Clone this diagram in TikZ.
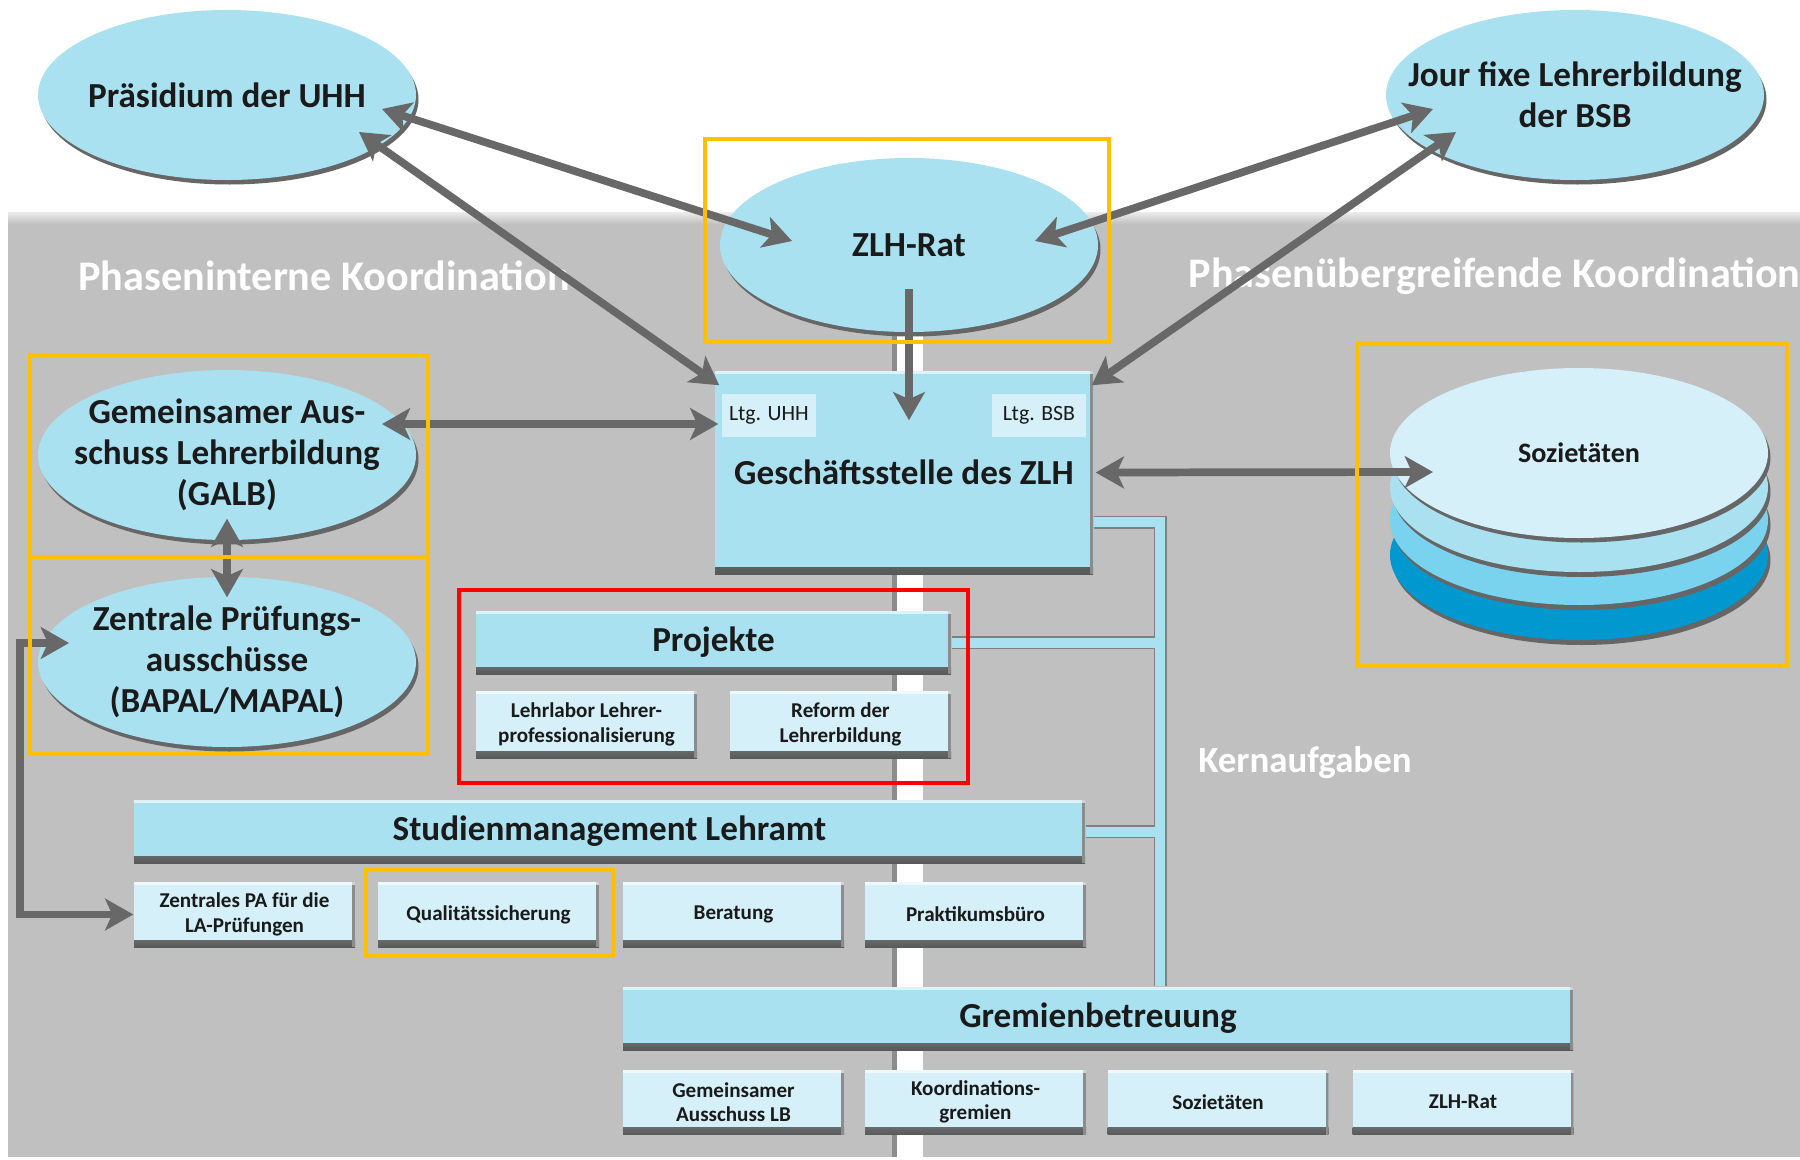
\documentclass[tikz,border=0pt]{standalone}
\usepackage{fontspec}
\setmainfont{Carlito}
\usetikzlibrary{shapes.geometric,arrows.meta,shadows}

\definecolor{zlhblau}{RGB}{169,225,241}
\definecolor{zlhhell}{RGB}{213,240,248}
\definecolor{zlhmittel}{RGB}{122,211,238}
\definecolor{zlhdunkel}{RGB}{0,152,206}
\definecolor{hgrau}{RGB}{192,192,192}
\definecolor{pfeilgrau}{RGB}{104,104,104}
\definecolor{rahmengelb}{RGB}{255,192,0}
\definecolor{schrift}{RGB}{26,26,26}

\begin{document}
\begin{tikzpicture}[
    >={Stealth[length=8pt,width=9pt,inset=2pt]},
    oval/.style={ellipse, fill=zlhblau, minimum width=3.78cm, minimum height=1.70cm,
        inner xsep=-0.6cm, inner ysep=-0.3cm, align=center, text=schrift,
        font=\fontsize{10}{11.6}\selectfont\bfseries,
        general shadow={fill=black!60, shadow xshift=0.025cm, shadow yshift=-0.045cm}},
    kante/.style={path picture={
        \shade[top color=#1, bottom color=black!65] ([yshift=0.07cm]path picture bounding box.south west) rectangle (path picture bounding box.south east);
        \fill[black!45] ([xshift=-0.03cm]path picture bounding box.south east) rectangle (path picture bounding box.north east);
        \fill[white, opacity=0.6] ([yshift=-0.03cm]path picture bounding box.north west) rectangle (path picture bounding box.north east);}},
    balken/.style={rectangle, fill=zlhblau, kante=zlhblau, minimum height=0.63cm, inner sep=0pt,
        text=schrift, font=\fontsize{10}{12}\selectfont\bfseries},
    feld/.style={rectangle, fill=zlhhell, kante=zlhhell, minimum width=2.21cm, minimum height=0.65cm,
        inner sep=0pt, align=center, text=schrift, font=\fontsize{6}{6.9}\selectfont\bfseries},
    ltg/.style={rectangle, fill=zlhhell, minimum width=0.94cm, minimum height=0.43cm, inner sep=0pt,
        text=schrift, font=\fontsize{6.2}{7}\selectfont},
    titel/.style={text=white, inner sep=0pt, font=\fontsize{12}{14}\selectfont\bfseries},
    pfeil/.style={draw=pfeilgrau, line width=2.2pt},
    gelbrahmen/.style={draw=rahmengelb, line width=1.2pt},
    rotrahmen/.style={draw=red, line width=1.2pt}
]
    \useasboundingbox (0,0) rectangle (18,-11.6);

    % Hintergrund
    \fill[hgrau] (0.08,-2.12) rectangle (18,-11.57);
    \shade[top color=white!70!hgrau, bottom color=hgrau] (0.08,-2.12) rectangle (18,-2.24);
    \fill[black!45] (8.92,-3.0) rectangle (8.97,-11.57);
    \fill[white] (8.97,-3.0) rectangle (9.23,-11.57);

    \node[titel] (intern) at (3.24,-2.76) {Phaseninterne Koordination};
    \node[titel, anchor=west] (extern) at (11.88,-2.76) {Phasenübergreifende Koordination};
    \node[titel, font=\fontsize{10.5}{12}\selectfont\bfseries] (kern) at (13.05,-7.63) {Kernaufgaben};

    % Gremien oben
    \node[oval] (praes) at (2.27,-0.95) {Präsidium der UHH};
    \node[oval] (jour) at (15.75,-0.95) {Jour fixe Lehrerbildung\\der BSB};
    \node[oval, minimum height=1.74cm] (rat) at (9.09,-2.45) {ZLH-Rat};

    % Geschaeftsstelle
    \node[balken, minimum width=3.78cm, minimum height=2.03cm] (gs) at (9.04,-4.725) {Geschäftsstelle des ZLH};
    \node[ltg] (luhh) at (7.69,-4.155) {Ltg. UHH};
    \node[ltg] (lbsb) at (10.39,-4.155) {Ltg. BSB};

    % Phaseninterne Gremien
    \node[oval] (galb) at (2.27,-4.55) {Gemeinsamer Aus-\\schuss Lehrerbildung\\(GALB)};
    \node[oval] (zpa) at (2.27,-6.62) {Zentrale Prüfungs-\\ausschüsse\\(BAPAL/MAPAL)};

    % Sozietaeten (Stapel)
    \coordinate (sozm) at (15.79,-4.53);
    \foreach \dy/\farbe in {1.02/zlhdunkel, 0.67/zlhmittel, 0.34/zlhblau}{
        \fill[black!60] ([shift={(0.025,-\dy-0.05)}]sozm) ellipse [x radius=1.89, y radius=0.85];
        \fill[\farbe] ([yshift=-\dy cm]sozm) ellipse [x radius=1.89, y radius=0.85];
    }
    \node[oval, fill=zlhhell, font=\fontsize{8}{9}\selectfont\bfseries] (soz) at (sozm) {Sozietäten};

    % Kernaufgaben
    \node[balken, minimum width=4.75cm] (proj) at (7.135,-6.425) {Projekte};
    \node[feld, minimum height=0.67cm] (labor) at (5.865,-7.245) {Lehrlabor Lehrer-\\professionalisierung};
    \node[feld, minimum height=0.67cm] (reform) at (8.405,-7.245) {Reform der\\Lehrerbildung};

    \node[balken, minimum width=9.51cm] (stud) at (6.095,-8.315) {Studienmanagement Lehramt};
    \node[feld] (pa) at (2.445,-9.145) {Zentrales PA für die\\LA-Prüfungen};
    \node[feld] (qs) at (4.885,-9.145) {Qualitätssicherung};
    \node[feld] (ber) at (7.335,-9.145) {Beratung};
    \node[feld] (prak) at (9.755,-9.145) {Praktikumsbüro};

    \node[balken, minimum width=9.50cm] (grem) at (10.98,-10.185) {Gremienbetreuung};
    \node[feld] (gal) at (7.335,-11.02) {Gemeinsamer\\Ausschuss LB};
    \node[feld] (koord) at (9.755,-11.02) {Koordinations-\\gremien};
    \node[feld] (soz2) at (12.18,-11.02) {Sozietäten};
    \node[feld] (rat2) at (14.63,-11.02) {ZLH-Rat};

    % Leitung zu den Kernaufgaben
    \coordinate (bus) at (11.60,-5.22);
    \foreach \breite/\farbe in {0.13/black!50, 0.10/zlhblau}{
        \draw[line width=\breite cm, \farbe] (gs.east |- bus) -- (bus) -- (bus |- grem.north);
        \draw[line width=\breite cm, \farbe] (proj.east) -- (proj.east -| bus);
        \draw[line width=\breite cm, \farbe] (stud.east) -- (stud.east -| bus);
    }

    % Pfeile
    \draw[pfeil, <->] ([shift={(1.55,-0.14)}]praes.center) -- ([shift={(-1.17,0.04)}]rat.center);
    \draw[pfeil, <->] ([shift={(1.32,-0.37)}]praes.center) -- ([shift={(0.05,-0.15)}]gs.north west);
    \draw[pfeil, <->] ([shift={(-1.42,-0.14)}]jour.center) -- ([shift={(1.26,0.04)}]rat.center);
    \draw[pfeil, <->] ([shift={(-1.19,-0.37)}]jour.center) -- ([shift={(-0.02,-0.15)}]gs.north east);
    \coordinate (ratziel) at ([yshift=-0.5cm]gs.north);
    \draw[pfeil, ->] ([yshift=-0.44cm]rat.center) -- (rat.center |- ratziel);
    \draw[pfeil, <->] ([shift={(1.55,0.31)}]galb.center) -- ([shift={(0.04,0.485)}]gs.west);
    \draw[pfeil, <->] ([xshift=0.02cm]gs.east) -- ([shift={(-1.46,-0.19)}]soz.center);
    \draw[pfeil, <->] ([yshift=0.22cm]galb.south) -- ([yshift=-0.21cm]zpa.north);
    \coordinate (knick) at (0.20,-6.43);
    \draw[pfeil, <->] ([shift={(-1.58,0.19)}]zpa.center) -- (knick) |- (pa.west);

    % Rahmen
    \draw[gelbrahmen] (7.05,-1.39) rectangle (11.09,-3.42);
    \draw[gelbrahmen] (0.30,-3.55) rectangle (4.28,-5.57);
    \draw[gelbrahmen] (0.30,-5.57) rectangle (4.28,-7.54);
    \draw[gelbrahmen] (3.66,-8.70) rectangle (6.13,-9.56);
    \draw[gelbrahmen] (13.57,-3.44) rectangle (17.87,-6.66);
    \draw[rotrahmen] (4.59,-5.90) rectangle (9.68,-7.83);
\end{tikzpicture}
\end{document}
